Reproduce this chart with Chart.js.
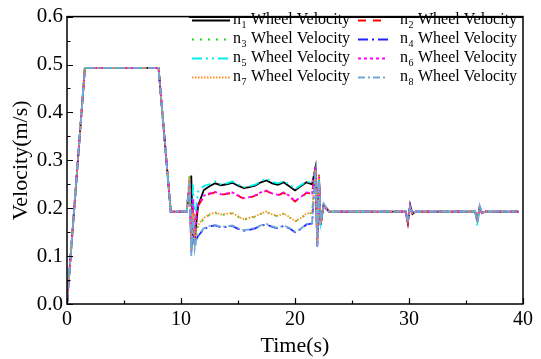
<!DOCTYPE html>
<html>
<head>
<meta charset="utf-8">
<script src="https://cdn.jsdelivr.net/npm/chart.js@4/dist/chart.umd.min.js"></script>
<style>
html,body{margin:0;padding:0;background:#fff;}
canvas{display:block;}
</style>
</head>
<body>
<canvas id="c" width="541" height="359"></canvas>
<script>
// Time samples (s)
const times = [0, 1.57, 8.03, 9.1,
  10.5, 10.75, 10.9, 11.05, 11.2, 11.35,
  11.5, 12, 12.5, 13, 13.5, 14, 14.5, 15, 15.5, 16, 16.5, 17, 17.5, 18, 18.5, 19, 19.5, 20, 20.5, 21, 21.5,
  21.8, 21.95, 22.1, 22.25, 22.5, 23,
  29.7, 29.9, 30.1, 30.3, 30.6, 35.8, 36.0, 36.2, 36.4, 36.7, 39.6];

const n1 = [0, 0.493, 0.493, 0.193,
  0.193, 0.245, 0.268, 0.14, 0.128, 0.17,
  0.205, 0.238, 0.246, 0.252, 0.248, 0.25, 0.253, 0.247, 0.242, 0.244, 0.247, 0.254, 0.258, 0.252, 0.249, 0.254, 0.246, 0.237, 0.246, 0.254, 0.25,
  0.285, 0.125, 0.27, 0.165, 0.205, 0.193,
  0.193, 0.17, 0.207, 0.188, 0.193, 0.193, 0.175, 0.2, 0.19, 0.193, 0.193];
const n2 = [0, 0.493, 0.493, 0.193,
  0.193, 0.25, 0.125, 0.2, 0.15, 0.185,
  0.205, 0.224, 0.23, 0.233, 0.228, 0.23, 0.232, 0.226, 0.22, 0.222, 0.226, 0.232, 0.236, 0.23, 0.227, 0.232, 0.225, 0.214, 0.222, 0.232, 0.23,
  0.29, 0.13, 0.26, 0.17, 0.208, 0.193,
  0.193, 0.168, 0.205, 0.19, 0.193, 0.193, 0.178, 0.2, 0.19, 0.193, 0.193];
const n3 = [0, 0.493, 0.493, 0.193,
  0.193, 0.27, 0.115, 0.185, 0.13, 0.155,
  0.162, 0.178, 0.186, 0.19, 0.186, 0.187, 0.189, 0.182, 0.176, 0.179, 0.182, 0.188, 0.192, 0.186, 0.183, 0.188, 0.181, 0.172, 0.178, 0.188, 0.19,
  0.28, 0.125, 0.26, 0.17, 0.205, 0.193,
  0.193, 0.175, 0.203, 0.19, 0.193, 0.193, 0.18, 0.2, 0.19, 0.193, 0.193];
const n4 = [0, 0.493, 0.493, 0.193,
  0.193, 0.26, 0.105, 0.17, 0.12, 0.135,
  0.142, 0.156, 0.162, 0.164, 0.16, 0.161, 0.163, 0.157, 0.153, 0.155, 0.158, 0.163, 0.166, 0.161, 0.158, 0.163, 0.158, 0.15, 0.156, 0.166, 0.168,
  0.285, 0.12, 0.265, 0.165, 0.205, 0.193,
  0.193, 0.172, 0.205, 0.19, 0.193, 0.193, 0.175, 0.202, 0.19, 0.193, 0.193];
const n5 = [0, 0.493, 0.493, 0.193,
  0.193, 0.262, 0.12, 0.25, 0.15, 0.205,
  0.235, 0.246, 0.25, 0.256, 0.25, 0.252, 0.256, 0.25, 0.244, 0.246, 0.249, 0.256, 0.262, 0.255, 0.252, 0.256, 0.25, 0.24, 0.248, 0.256, 0.252,
  0.28, 0.13, 0.26, 0.17, 0.205, 0.193,
  0.193, 0.178, 0.2, 0.19, 0.193, 0.193, 0.163, 0.207, 0.19, 0.193, 0.193];
const n6 = [0, 0.493, 0.493, 0.193,
  0.193, 0.255, 0.13, 0.22, 0.14, 0.185,
  0.208, 0.226, 0.231, 0.234, 0.229, 0.231, 0.233, 0.227, 0.221, 0.223, 0.227, 0.233, 0.237, 0.231, 0.228, 0.233, 0.226, 0.215, 0.223, 0.233, 0.231,
  0.285, 0.12, 0.265, 0.17, 0.206, 0.193,
  0.193, 0.172, 0.205, 0.19, 0.193, 0.193, 0.172, 0.204, 0.19, 0.193, 0.193];
const n7 = [0, 0.493, 0.493, 0.193,
  0.193, 0.265, 0.11, 0.19, 0.125, 0.155,
  0.165, 0.18, 0.187, 0.191, 0.187, 0.188, 0.19, 0.183, 0.177, 0.18, 0.183, 0.189, 0.193, 0.187, 0.184, 0.189, 0.182, 0.173, 0.179, 0.189, 0.191,
  0.28, 0.125, 0.27, 0.168, 0.204, 0.193,
  0.193, 0.174, 0.204, 0.19, 0.193, 0.193, 0.176, 0.203, 0.19, 0.193, 0.193];
const n8 = [0, 0.493, 0.493, 0.193,
  0.193, 0.252, 0.1, 0.18, 0.115, 0.135,
  0.145, 0.158, 0.163, 0.165, 0.161, 0.162, 0.164, 0.158, 0.154, 0.156, 0.159, 0.164, 0.167, 0.162, 0.159, 0.164, 0.159, 0.151, 0.157, 0.167, 0.169,
  0.275, 0.12, 0.26, 0.17, 0.21, 0.193,
  0.193, 0.173, 0.203, 0.19, 0.193, 0.193, 0.168, 0.205, 0.19, 0.193, 0.193];

const seriesValues = [n1, n2, n3, n4, n5, n6, n7, n8];
const seriesSubs = ['1', '2', '3', '4', '5', '6', '7', '8'];
const seriesLabel = 'Wheel Velocity';
const yTicks = [0, 0.1, 0.2, 0.3, 0.4, 0.5, 0.6];
const xTicks = [0, 10, 20, 30, 40];

const colors = ['#000000', '#ff0000', '#22dd22', '#2222ff', '#00f0f0', '#ff00ff', '#ff8c1a', '#6fa8dc'];
const dashes = [[], [8, 7], [2, 6], [10, 4, 2, 4], [10, 4, 2, 4, 2, 4], [3, 3], [1.5, 1.5], [7, 3, 2, 3]];

const SERIF = '"Liberation Serif", "Times New Roman", serif';

const datasets = seriesValues.map((vals, i) => ({
  label: 'n' + seriesSubs[i] + ' ' + seriesLabel,
  data: times.map((t, k) => ({ x: t, y: vals[k] })),
  borderColor: colors[i],
  borderDash: dashes[i],
  borderWidth: 1.8,
  pointRadius: 0,
  tension: 0,
  fill: false,
  order: 7 - i
}));

const framePlugin = {
  id: 'frame',
  afterDraw(chart) {
    const { ctx, chartArea: a, scales } = chart;
    const xs = scales.x, ys = scales.y;
    ctx.save();
    ctx.strokeStyle = '#000';
    ctx.lineWidth = 1.5;
    ctx.strokeRect(a.left, a.top, a.right - a.left, a.bottom - a.top);
    // inward ticks
    ctx.lineWidth = 1.2;
    ctx.beginPath();
    for (let v = 0; v <= 0.6001; v += 0.05) {
      const y = Math.round(ys.getPixelForValue(v)) + 0.5;
      const major = Math.abs(v * 10 - Math.round(v * 10)) < 1e-6;
      ctx.moveTo(a.left, y);
      ctx.lineTo(a.left + (major ? 6 : 3.5), y);
    }
    for (let v = 0; v <= 40; v += 5) {
      const x = Math.round(xs.getPixelForValue(v)) + 0.5;
      const major = v % 10 === 0;
      ctx.moveTo(x, a.bottom);
      ctx.lineTo(x, a.bottom - (major ? 6 : 3.5));
    }
    ctx.stroke();
    // legend top edge (slightly heavier)
    ctx.lineWidth = 2;
    ctx.beginPath();
    ctx.moveTo(189, a.top + 0.5);
    ctx.lineTo(a.right, a.top + 0.5);
    ctx.stroke();
    // legend
    const cols = [{ lx0: 192, lx1: 230, tx: 233 }, { lx0: 358, lx1: 388, tx: 400 }];
    const rows = [20, 39, 58, 77];
    chart.data.datasets.forEach((ds, i) => {
      const c = cols[i % 2];
      const y = rows[Math.floor(i / 2)];
      ctx.strokeStyle = ds.borderColor;
      ctx.lineWidth = 2;
      ctx.setLineDash(ds.borderDash || []);
      ctx.beginPath();
      ctx.moveTo(c.lx0, y + 0.5);
      ctx.lineTo(c.lx1, y + 0.5);
      ctx.stroke();
      ctx.setLineDash([]);
      ctx.fillStyle = '#000';
      ctx.textBaseline = 'middle';
      ctx.textAlign = 'left';
      ctx.font = '16px ' + SERIF;
      ctx.fillText('n', c.tx, y);
      const wn = ctx.measureText('n').width;
      ctx.font = '10px ' + SERIF;
      ctx.fillText(seriesSubs[i], c.tx + wn + 0.5, y + 5);
      const ws = ctx.measureText(seriesSubs[i]).width;
      ctx.font = '16px ' + SERIF;
      ctx.fillText(seriesLabel, c.tx + wn + ws + 5, y);
    });
    ctx.restore();
  }
};

new Chart(document.getElementById('c'), {
  type: 'line',
  data: { datasets },
  options: {
    responsive: false,
    animation: false,
    devicePixelRatio: 1,
    layout: { padding: { top: 11, right: 18, left: 0, bottom: 0 } },
    plugins: { legend: { display: false }, tooltip: { enabled: false } },
    scales: {
      x: {
        type: 'linear',
        min: 0, max: 40,
        afterBuildTicks: s => { s.ticks = xTicks.map(v => ({ value: v })); },
        afterFit: s => { s.height = 55; },
        grid: { display: false, drawTicks: false },
        border: { display: false },
        ticks: { color: '#000', font: { family: SERIF, size: 20 }, padding: 4, maxRotation: 0 },
        title: { display: true, text: 'Time(s)', color: '#000', font: { family: SERIF, size: 22 }, padding: { top: 0, bottom: 0 } }
      },
      y: {
        type: 'linear',
        min: 0, max: 0.6,
        afterBuildTicks: s => { s.ticks = yTicks.map(v => ({ value: v })); },
        afterFit: s => { s.width = 67; },
        grid: { display: false, drawTicks: false },
        border: { display: false },
        ticks: { color: '#000', font: { family: SERIF, size: 21 }, padding: 4, callback: v => Number(v).toFixed(1) },
        title: { display: true, text: 'Velocity(m/s)', color: '#000', font: { family: SERIF, size: 22 }, padding: { top: 8, bottom: 0 } }
      }
    }
  },
  plugins: [framePlugin]
});
</script>
</body>
</html>
